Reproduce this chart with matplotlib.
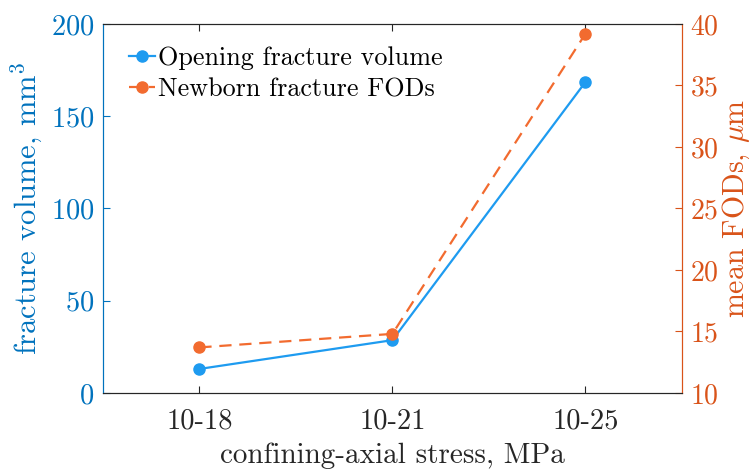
import matplotlib as mpl

mpl.use("Agg")
import matplotlib.pyplot as plt

plt.rcParams["font.family"] = "serif"
plt.rcParams["font.serif"] = ["cmr10"]
plt.rcParams["mathtext.fontset"] = "cm"
plt.rcParams["axes.formatter.use_mathtext"] = True

categories = ["10-18", "10-21", "10-25"]
volume = [13.0, 28.6, 168.5]      # mm^3
fods = [13.7, 14.8, 39.2]         # um

BLUE_AX, ORANGE_AX = "#0072BD", "#D95319"
BLUE, ORANGE = "#1E9BF0", "#F26B2F"
x = list(range(1, len(categories) + 1))

fig = plt.figure(figsize=(7.51, 4.70), dpi=100, facecolor="white")
ax = fig.add_axes([0.137, 0.164, 0.771, 0.785])
ax2 = ax.twinx()

l1, = ax.plot(x, volume, "-o", color=BLUE, lw=1.6, ms=8, label="Opening fracture volume")
l2, = ax2.plot(x, fods, "--o", color=ORANGE, lw=1.6, ms=8, dashes=(5.5, 3.5),
               label="Newborn fracture FODs")

ax.set_xlim(0.5, 3.5)
ax.set_xticks(x)
ax.set_xticklabels(categories)
ax.set_ylim(0, 200)
ax.set_yticks([0, 50, 100, 150, 200])
ax2.set_ylim(10, 40)
ax2.set_yticks(range(10, 41, 5))

ax.tick_params(axis="x", direction="in", top=True, length=5, labelsize=20.5, pad=11,
               color="#262626", labelcolor="#262626")
ax.tick_params(axis="y", direction="in", length=5, labelsize=20.5, colors=BLUE_AX, pad=6)
ax2.tick_params(axis="y", direction="in", length=5, labelsize=20, colors=ORANGE_AX, pad=6)

for a in (ax, ax2):
    a.spines["top"].set_color("#262626")
    a.spines["bottom"].set_color("#262626")
    a.spines["left"].set_color(BLUE_AX)
    a.spines["right"].set_color(ORANGE_AX)

ax.set_xlabel("confining-axial stress, MPa", fontsize=21, color="#262626", labelpad=6)
ax.set_ylabel("fracture volume, mm$^3$", fontsize=22, color=BLUE_AX, labelpad=4)
ax2.set_ylabel(r"mean FODs, $\mu$m", fontsize=21.5, color=ORANGE_AX, labelpad=1)

ax.legend(handles=[l1, l2], loc="upper left", frameon=False, fontsize=18.8,
          handlelength=1.0, handletextpad=0.1, labelspacing=0.3,
          borderaxespad=0.0, bbox_to_anchor=(0.027, 0.968))

fig.savefig("out.png", dpi=100, facecolor="white")
